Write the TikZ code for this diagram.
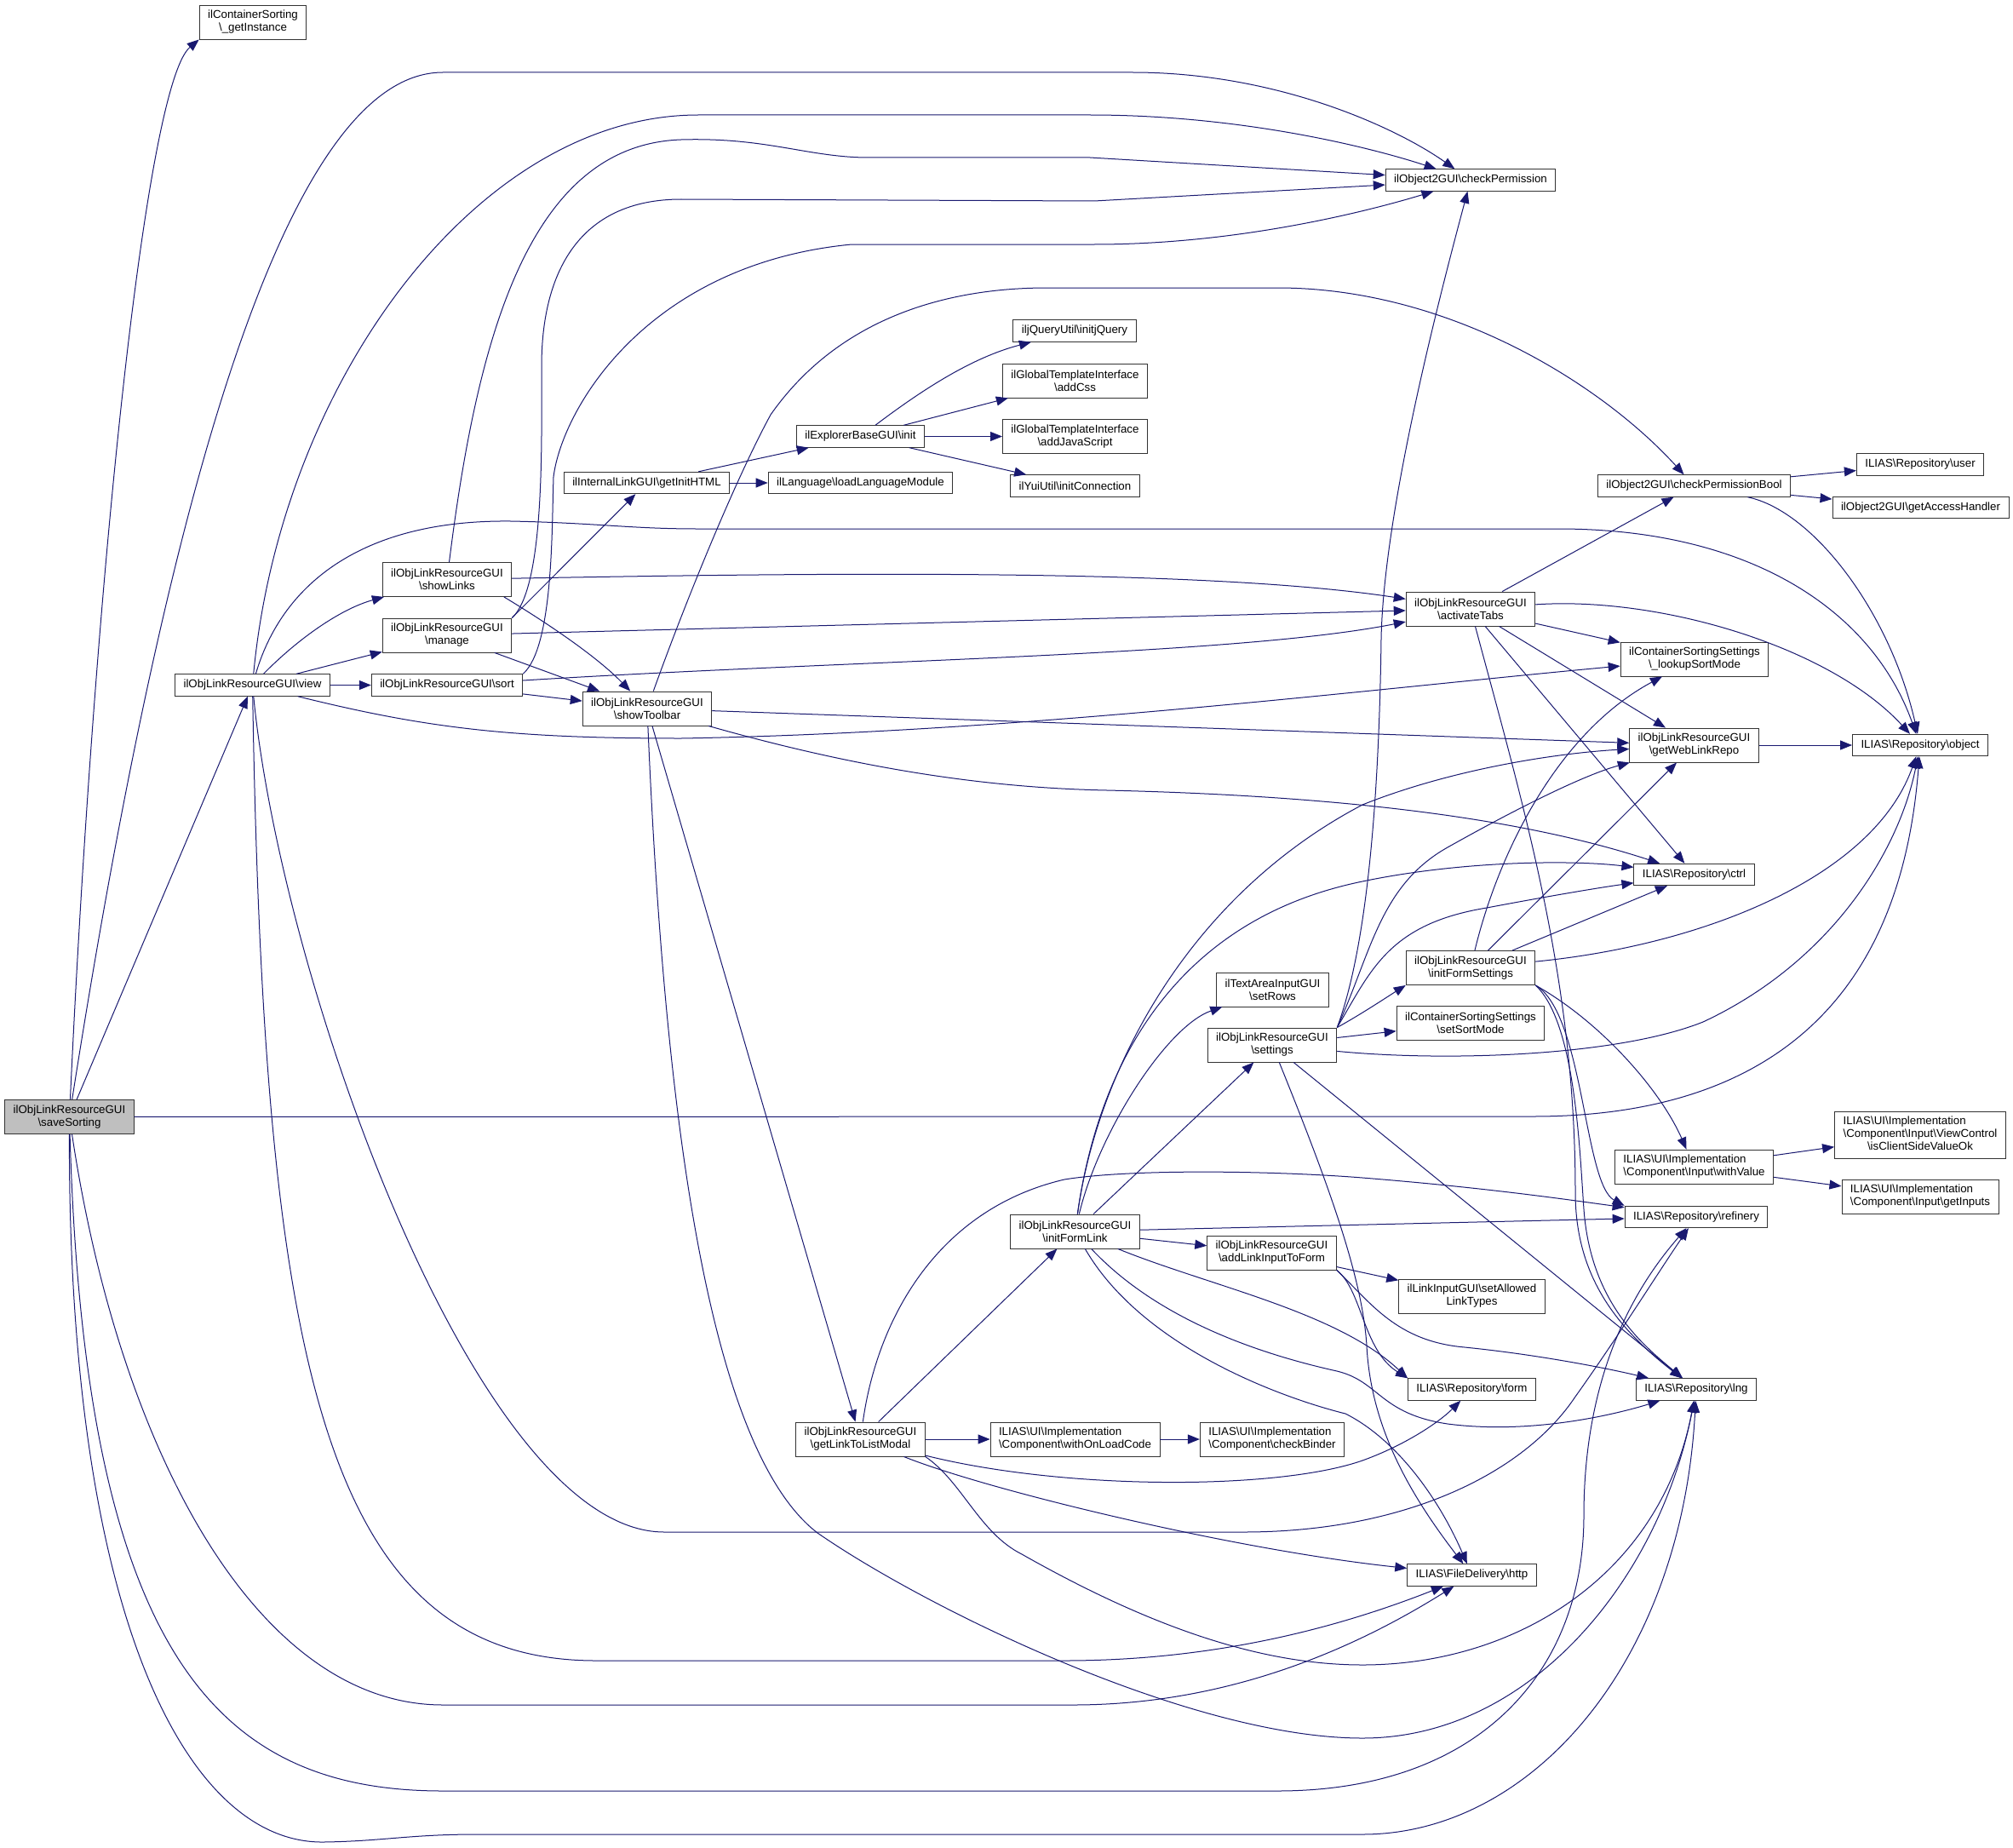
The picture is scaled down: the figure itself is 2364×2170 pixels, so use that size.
\documentclass[tikz,border=0pt]{standalone}
\usepackage{fontspec}
\setmainfont{Liberation Sans}
\usepackage{tikz}
\usetikzlibrary{arrows.meta}

\definecolor{edgeblue}{HTML}{191970}
\newcommand{\bsl}{\textbackslash}

\tikzset{
    fn/.style={draw=black!80, line width=0.9pt, fill=white, align=center,
        font=\fontsize{13.3}{15}\selectfont, inner xsep=10pt, inner ysep=2pt,
        minimum height=25.5pt},
    fn2/.style={fn, minimum height=40pt},
    fn3/.style={fn, minimum height=55pt},
    root/.style={fn2, fill=black!25},
    call/.style={draw=edgeblue, line width=1pt, -{Triangle[length=14pt,width=11pt]}}
}

\begin{document}
\begin{tikzpicture}[x=1pt,y=-1pt]
    \useasboundingbox (0,0) rectangle (2364,2170);
    \fill[white] (0,0) rectangle (2364,2170);

    % functions
    \node[root] (saveSorting) at (81.5,1311.5) {ilObjLinkResourceGUI\\\bsl saveSorting};
    \node[fn2] (getInstance) at (297,26) {ilContainerSorting\\\bsl\_getInstance};
    \node[fn] (view) at (296.5,804.5) {ilObjLinkResourceGUI\bsl view};
    \node[fn2] (showLinks) at (525,680.5) {ilObjLinkResourceGUI\\\bsl showLinks};
    \node[fn2] (manage) at (525,746) {ilObjLinkResourceGUI\\\bsl manage};
    \node[fn] (sort) at (525,804.5) {ilObjLinkResourceGUI\bsl sort};
    \node[fn2] (showToolbar) at (760,832) {ilObjLinkResourceGUI\\\bsl showToolbar};
    \node[fn] (getInitHTML) at (759.5,567) {ilInternalLinkGUI\bsl getInitHTML};
    \node[fn] (explorerInit) at (1010.5,512.5) {ilExplorerBaseGUI\bsl init};
    \node[fn] (loadLang) at (1010.5,567) {ilLanguage\bsl loadLanguageModule};
    \node[fn] (initjQuery) at (1262,388.5) {iljQueryUtil\bsl initjQuery};
    \node[fn2] (addCss) at (1262.5,447) {ilGlobalTemplateInterface\\\bsl addCss};
    \node[fn2] (addJavaScript) at (1262.5,512.5) {ilGlobalTemplateInterface\\\bsl addJavaScript};
    \node[fn] (initConnection) at (1262.5,570.5) {ilYuiUtil\bsl initConnection};
    \node[fn] (checkPermission) at (1727,211.5) {ilObject2GUI\bsl checkPermission};
    \node[fn] (checkPermissionBool) at (1989.5,570.5) {ilObject2GUI\bsl checkPermissionBool};
    \node[fn] (user) at (2255,545.5) {ILIAS\bsl Repository\bsl user};
    \node[fn] (getAccessHandler) at (2255.5,596) {ilObject2GUI\bsl getAccessHandler};
    \node[fn2] (activateTabs) at (1727,715) {ilObjLinkResourceGUI\\\bsl activateTabs};
    \node[fn2] (lookupSortMode) at (1990,774) {ilContainerSortingSettings\\\bsl\_lookupSortMode};
    \node[fn2] (getWebLinkRepo) at (1989.5,875) {ilObjLinkResourceGUI\\\bsl getWebLinkRepo};
    \node[fn] (object) at (2255,875) {ILIAS\bsl Repository\bsl object};
    \node[fn] (ctrl) at (1989.5,1027) {ILIAS\bsl Repository\bsl ctrl};
    \node[fn2] (initFormSettings) at (1727,1136.5) {ilObjLinkResourceGUI\\\bsl initFormSettings};
    \node[fn2] (setSortMode) at (1727,1201) {ilContainerSortingSettings\\\bsl setSortMode};
    \node[fn2] (setRows) at (1494.5,1162) {ilTextAreaInputGUI\\\bsl setRows};
    \node[fn2] (settings) at (1494,1227) {ilObjLinkResourceGUI\\\bsl settings};
    \node[fn3] (isClientSideValueOk) at (2255,1332.5) {\begin{tabular}{@{}l@{}}ILIAS\bsl UI\bsl Implementation\\\bsl Component\bsl Input\bsl ViewControl\\\multicolumn{1}{@{}c@{}}{\bsl isClientSideValueOk}\end{tabular}};
    \node[fn2,align=left] (withValue) at (1989.5,1370) {ILIAS\bsl UI\bsl Implementation\\\bsl Component\bsl Input\bsl withValue};
    \node[fn2,align=left] (getInputs) at (2255,1405) {ILIAS\bsl UI\bsl Implementation\\\bsl Component\bsl Input\bsl getInputs};
    \node[fn2] (initFormLink) at (1262.5,1446) {ilObjLinkResourceGUI\\\bsl initFormLink};
    \node[fn2] (addLinkInputToForm) at (1493.5,1471) {ilObjLinkResourceGUI\\\bsl addLinkInputToForm};
    \node[fn] (refinery) at (1992,1429) {ILIAS\bsl Repository\bsl refinery};
    \node[fn2] (setAllowedLinkTypes) at (1728.5,1522) {ilLinkInputGUI\bsl setAllowed\\LinkTypes};
    \node[fn] (form) at (1728.5,1631.5) {ILIAS\bsl Repository\bsl form};
    \node[fn] (lng) at (1992,1631.5) {ILIAS\bsl Repository\bsl lng};
    \node[fn] (http) at (1728.5,1849.5) {ILIAS\bsl FileDelivery\bsl http};
    \node[fn2] (getLinkToListModal) at (1010.5,1690) {ilObjLinkResourceGUI\\\bsl getLinkToListModal};
    \node[fn2,align=left] (withOnLoadCode) at (1262.5,1690) {ILIAS\bsl UI\bsl Implementation\\\bsl Component\bsl withOnLoadCode};
    \node[fn2,align=left] (checkBinder) at (1494,1690) {ILIAS\bsl UI\bsl Implementation\\\bsl Component\bsl checkBinder};

    % saveSorting
    \draw[call] (saveSorting) .. controls (110,700) and (170,100) .. (getInstance.south west);
    \draw[call] (saveSorting) .. controls (190,620) and (330,85) .. (520,85) -- (1330,85) .. controls (1500,85) and (1640,150) .. (checkPermission);
    \draw[call] (saveSorting) -- (view);
    \draw[call] (saveSorting) -- (1800,1311) .. controls (2050,1311) and (2230,1200) .. (object);
    \draw[call] (saveSorting) .. controls (140,1700) and (300,2002) .. (520,2002) -- (1260,2002) .. controls (1450,2002) and (1600,1930) .. (http);
    \draw[call] (saveSorting) .. controls (100,1950) and (260,2103) .. (520,2103) -- (1500,2103) .. controls (1740,2103) and (1860,1960) .. (1860,1780) .. controls (1860,1600) and (1930,1500) .. (refinery);
    \draw[call] (saveSorting) .. controls (80,1900) and (220,2165) .. (380,2163) .. controls (450,2162) and (480,2154) .. (560,2154) -- (1600,2154) .. controls (1800,2154) and (1975,1950) .. (lng);

    % view
    \draw[call] (view) .. controls (330,450) and (560,135) .. (820,135) -- (1280,135) .. controls (1450,135) and (1600,170) .. (checkPermission);
    \draw[call] (view) .. controls (350,750) and (400,715) .. (showLinks);
    \draw[call] (view) -- (manage);
    \draw[call] (view) -- (sort);
    \draw[call] (view) .. controls (330,690) and (420,610) .. (600,612) .. controls (700,614) and (740,621) .. (820,621) -- (1830,621) .. controls (2060,621) and (2200,720) .. (object);
    \draw[call] (view) .. controls (500,855) and (600,867) .. (800,867) .. controls (1200,860) and (1600,810) .. (lookupSortMode);
    \draw[call] (view) .. controls (330,1150) and (560,1799) .. (780,1799) -- (1460,1799) .. controls (1650,1799) and (1790,1730) .. (1850,1640) .. controls (1900,1570) and (1950,1490) .. (refinery);
    \draw[call] (view) .. controls (310,1600) and (380,1950) .. (700,1950) -- (1250,1950) .. controls (1450,1950) and (1600,1900) .. (http);

    % showLinks, manage, sort
    \draw[call] (showLinks) .. controls (560,400) and (620,170) .. (800,164) .. controls (900,161) and (950,185) .. (1020,185) -- (1280,185) -- (checkPermission);
    \draw[call] (showLinks) .. controls (900,674) and (1400,665) .. (activateTabs);
    \draw[call] (showLinks.-17) .. controls (640,730) and (700,770) .. (showToolbar);
    \draw[call] (manage.north east) .. controls (640,690) and (636,520) .. (636,430) .. controls (636,320) and (680,234) .. (800,234) -- (1285,236) -- (checkPermission);
    \draw[call] (manage.north east) -- (getInitHTML);
    \draw[call] (manage) -- (activateTabs);
    \draw[call] (manage) -- (showToolbar);
    \draw[call] (sort.north east) .. controls (650,760) and (648,620) .. (650,560) .. controls (660,480) and (760,310) .. (1000,287) -- (1285,287) .. controls (1450,287) and (1600,250) .. (checkPermission);
    \draw[call] (sort) .. controls (1000,775) and (1450,770) .. (activateTabs);
    \draw[call] (sort) -- (showToolbar);

    % getInitHTML
    \draw[call] (getInitHTML) -- (explorerInit);
    \draw[call] (getInitHTML) -- (loadLang);
    \draw[call] (explorerInit) .. controls (1080,460) and (1140,420) .. (initjQuery);
    \draw[call] (explorerInit) -- (addCss);
    \draw[call] (explorerInit) -- (addJavaScript);
    \draw[call] (explorerInit) -- (initConnection);

    % showToolbar
    \draw[call] (showToolbar) .. controls (800,720) and (860,570) .. (905,487) .. controls (980,380) and (1100,338) .. (1230,338) -- (1500,338) .. controls (1700,338) and (1880,450) .. (checkPermissionBool);
    \draw[call] (showToolbar) -- (getWebLinkRepo);
    \draw[call] (showToolbar) .. controls (1000,900) and (1150,925) .. (1300,928) .. controls (1600,935) and (1800,965) .. (ctrl);
    \draw[call] (showToolbar) -- (getLinkToListModal);
    \draw[call] (showToolbar) .. controls (780,1300) and (830,1700) .. (960,1800) .. controls (1090,1890) and (1400,2041) .. (1600,2041) .. controls (1800,2041) and (1950,1850) .. (lng);

    % checkPermissionBool, activateTabs
    \draw[call] (checkPermissionBool) -- (user);
    \draw[call] (checkPermissionBool) -- (getAccessHandler);
    \draw[call] (checkPermissionBool) .. controls (2130,600) and (2220,720) .. (object);
    \draw[call] (activateTabs) -- (checkPermissionBool);
    \draw[call] (activateTabs) .. controls (1950,700) and (2150,760) .. (object);
    \draw[call] (activateTabs) -- (lookupSortMode);
    \draw[call] (activateTabs) -- (getWebLinkRepo);
    \draw[call] (activateTabs) -- (ctrl);
    \draw[call] (activateTabs) .. controls (1790,950) and (1850,1150) .. (1850,1400) .. controls (1850,1500) and (1900,1560) .. (lng);
    \draw[call] (getWebLinkRepo) -- (object);

    % initFormSettings
    \draw[call] (initFormSettings) .. controls (1760,1000) and (1830,860) .. (lookupSortMode);
    \draw[call] (initFormSettings) -- (getWebLinkRepo);
    \draw[call] (initFormSettings) -- (ctrl);
    \draw[call] (initFormSettings) .. controls (2000,1110) and (2200,1030) .. (object);
    \draw[call] (initFormSettings.south east) .. controls (1880,1200) and (1950,1280) .. (withValue);
    \draw[call] (initFormSettings.south east) .. controls (1860,1190) and (1860,1390) .. (refinery.north west);
    \draw[call] (initFormSettings.south east) .. controls (1850,1200) and (1855,1350) .. (1860,1420) .. controls (1868,1530) and (1930,1580) .. (lng);
    \draw[call] (withValue) -- (isClientSideValueOk);
    \draw[call] (withValue) -- (getInputs);

    % settings
    \draw[call] (settings.north east) .. controls (1610,1100) and (1620,900) .. (1622,750) .. controls (1625,600) and (1690,350) .. (checkPermission);
    \draw[call] (settings.north east) .. controls (1610,1120) and (1620,1040) .. (1700,995) .. controls (1780,950) and (1860,910) .. (getWebLinkRepo);
    \draw[call] (settings.north east) .. controls (1610,1140) and (1630,1085) .. (1746,1066) .. controls (1820,1052) and (1880,1042) .. (ctrl);
    \draw[call] (settings.north east) .. controls (1600,1190) and (1630,1170) .. (initFormSettings.south west);
    \draw[call] (settings) -- (setSortMode);
    \draw[call] (settings) .. controls (1700,1247) and (1900,1240) .. (2000,1200) .. controls (2150,1130) and (2230,1000) .. (object);
    \draw[call] (settings) -- (lng);
    \draw[call] (settings) .. controls (1560,1390) and (1600,1500) .. (1605,1580) .. controls (1610,1680) and (1660,1760) .. (http);

    % initFormLink
    \draw[call] (initFormLink) .. controls (1290,1330) and (1370,1205) .. (setRows);
    \draw[call] (initFormLink) -- (settings);
    \draw[call] (initFormLink) .. controls (1290,1250) and (1400,1050) .. (1600,945) .. controls (1700,905) and (1820,885) .. (getWebLinkRepo);
    \draw[call] (initFormLink) .. controls (1290,1250) and (1380,1080) .. (1600,1035) .. controls (1720,1010) and (1850,1010) .. (ctrl);
    \draw[call] (initFormLink) -- (refinery);
    \draw[call] (initFormLink) -- (addLinkInputToForm);
    \draw[call] (initFormLink) .. controls (1420,1510) and (1570,1540) .. (form.north west);
    \draw[call] (initFormLink) .. controls (1360,1550) and (1480,1590) .. (1570,1610) .. controls (1620,1622) and (1620,1660) .. (1700,1672) .. controls (1800,1685) and (1900,1660) .. (lng);
    \draw[call] (initFormLink) .. controls (1340,1580) and (1500,1640) .. (1580,1660) .. controls (1640,1690) and (1690,1760) .. (http);
    \draw[call] (addLinkInputToForm) -- (setAllowedLinkTypes);
    \draw[call] (addLinkInputToForm.south east) .. controls (1600,1515) and (1600,1585) .. (form.north west);
    \draw[call] (addLinkInputToForm.south east) .. controls (1610,1530) and (1640,1575) .. (1720,1582) .. controls (1800,1590) and (1880,1605) .. (lng);

    % getLinkToListModal
    \draw[call] (getLinkToListModal) -- (initFormLink);
    \draw[call] (getLinkToListModal) -- (withOnLoadCode);
    \draw[call] (withOnLoadCode) -- (checkBinder);
    \draw[call] (getLinkToListModal) .. controls (1030,1550) and (1100,1420) .. (1250,1385) .. controls (1330,1372) and (1500,1375) .. (1600,1383) .. controls (1750,1395) and (1850,1410) .. (refinery);
    \draw[call] (getLinkToListModal) .. controls (1250,1750) and (1500,1750) .. (1600,1715) .. controls (1650,1697) and (1690,1670) .. (form);
    \draw[call] (getLinkToListModal) .. controls (1160,1750) and (1450,1820) .. (http);
    \draw[call] (getLinkToListModal.south east) .. controls (1130,1740) and (1150,1800) .. (1200,1825) .. controls (1350,1910) and (1480,1955) .. (1600,1955) .. controls (1780,1955) and (1950,1850) .. (lng);
\end{tikzpicture}
\end{document}
